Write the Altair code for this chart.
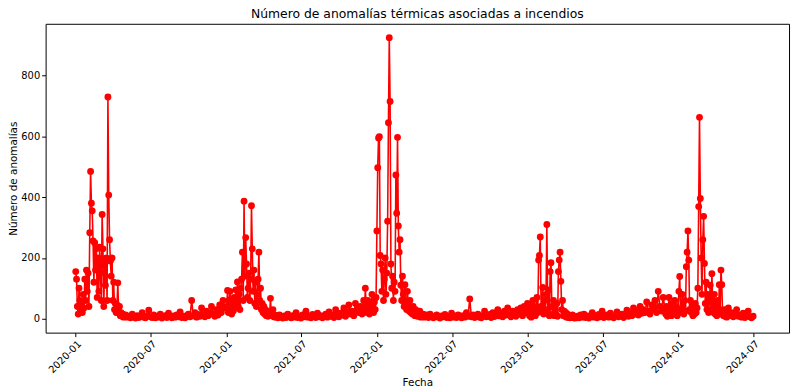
import altair as alt
import pandas as pd

# Season / quiet-period values
s2020 = [155,130,40,15,100,60,25,45,20,80, 35,130,60,160,90,150,40,283,485,380,
         355,256,120,250,160,230,70,200,90,235, 150,60,343,230,40,180,110,200,60,730,
         407,260,190,140,200,60,120,30,50,20, 45,118,25,40,10,20,8,15,5,10, 6]
q2020 = [12,5,8,3,15,6,2,10,4,7, 20,5,3,9,28,6,4,12,3,8, 5,15,2,6,10,4,18,7,3,9,
         5,12,6,22,4,8,3,10,15,6, 60,9,20,5,14,8,35,12,6,25, 10,18,40,15,8,30,12,45,20,60, 35]
s2021 = [40,93,20,60,90,30,15,50,25,70, 35,95,60,121,40,80,30,100,130,219,
         60,387,140,267,180,70,100,150,60,130, 372,230,90,160,50,120,40,80,130,219,
         60,100,30,50,20,40,15,30,10,25, 8,20,12,67,15,10,30,6,12,5]
q2021 = [8,3,12,5,2,9,4,15,6,3, 10,5,20,4,8,2,12,6,25,5, 9,3,14,7,4,18,6,10,3,8,
         15,5,22,8,12,4,30,10,6,18, 12,35,8,20,45,15,25,10,50,30, 20,40,15,60]
s2022 = [30,100,45,20,60,35,15,50,25,80, 40,20,55,30,70,289,497,595,599,208,
         180,90,160,60,130,200,80,150,321,645, 925,715,180,100,140,60,120,90,473,347,
         597,305,219,260,110,60,140,80,40,112, 50,30,90,45,25,60,20,35,15,40,
         20,10,30,15,8,20,10,25,5,12, 8,15,5,10,6,12]
q2022 = [10,4,15,6,3,8,12,5,2,9, 6,14,4,7,3,18,5,9,4,12, 6,3,10,5,20,8,65,6,12,4,
         9,15,5,3,10,25,6,8,14,4, 20,7,12,30,9,15,6,25,12,35, 12,6,25,10,8,30,15,35,10,40, 20,50]
s2023 = [20,45,10,30,5,25,60,15,40,10, 30,70,20,193,208,269,40,25,103,15,
         60,20,80,310,30,95,10,155,184,40, 15,60,10,30,15,50,8,155,193,219,
         123,30,60,10,25,8,20,5,15,4, 10,3,8,5,12,3,6,2,5,3]
q2023 = [8,3,12,5,15,4,9,2,7,20, 5,10,3,14,6,25,4,8,12,5, 18,7,3,10,22,6,9,15,4,12,
         28,8,20,10,35,15,25,12,40,18, 30,20,55,25,15,45,30,60,20,90, 40,25,70,35]
s2024 = [15,40,8,25,70,15,35,10,50,20, 30,60,15,40,10,30,90,139,30,20,
         80,40,15,60,25,171,219,289,193,30, 60,20,40,10,30,15,50,20,35,100,
         369,663,396,200,80,260,337,182,50,120, 30,80,20,60,110,30,148,50,20,80,
         15,40,10,60,20,112,30,160,112,15, 10,30,8,20,5,12]
q2024 = [35,10,20,6,15,30,8,12,5,18,4,9,25,6,3,8]

segment_starts = ["2020-01-01", "2020-05-01", "2021-01-01", "2021-05-01", "2021-12-01",
                  "2022-05-01", "2023-01-01", "2023-05-01", "2023-12-01", "2024-05-01"]
segment_steps = [2, 4, 2, 4, 2, 4, 2, 4, 2, 4]
segment_values = [s2020, q2020, s2021, q2021, s2022, q2022, s2023, q2023, s2024, q2024]

frames = []
for start, step, vals in zip(segment_starts, segment_steps, segment_values):
    dates = pd.date_range(start, periods=len(vals), freq=f"{step}D")
    frames.append(pd.DataFrame({"Fecha": dates.strftime("%Y-%m-%d"), "n": vals}))
df = pd.concat(frames, ignore_index=True)

tick_dates = [alt.DateTime(year=y, month=m, date=1, utc=True)
              for y in range(2020, 2025) for m in (1, 7)]

FONT = "DejaVu Sans"

chart = alt.Chart(df).mark_line(
    color="#ff0000", strokeWidth=1.6,
    point=alt.OverlayMarkDef(filled=True, size=48, color="#ff0000", opacity=1),
).encode(
    x=alt.X("Fecha:T", title="Fecha",
            scale=alt.Scale(type="utc",
                            domain=[alt.DateTime(year=2019, month=10, date=20, utc=True),
                                    alt.DateTime(year=2024, month=9, date=25, utc=True)]),
            axis=alt.Axis(values=tick_dates, format="%Y-%m", labelAngle=-45,
                          labelAlign="right", labelBaseline="top", grid=False,
                          domain=False, tickColor="black", tickSize=4,
                          labelPadding=2, titlePadding=3)),
    y=alt.Y("n:Q", title="Número de anomalías",
            scale=alt.Scale(domain=[-46, 971], nice=False, zero=False),
            axis=alt.Axis(values=[0, 200, 400, 600, 800], grid=False, domain=False,
                          tickColor="black", tickSize=4, labelPadding=2, titlePadding=2)),
).properties(
    width=751, height=312,
    autosize=alt.AutoSizeParams(type="none"),
    padding={"left": 38, "top": 14, "right": 3, "bottom": 56},
    title=alt.Title("Número de anomalías térmicas asociadas a incendios",
                    font=FONT, fontSize=12.5, fontWeight="normal", color="black",
                    offset=3, anchor="middle"),
).configure_view(
    stroke="black", strokeWidth=1
).configure_axis(
    labelFont=FONT, titleFont=FONT, labelFontSize=10, titleFontSize=10.5,
    labelColor="black", titleColor="black", titleFontWeight="normal",
)

chart.save("out.html", embed_options={"renderer": "svg", "actions": False})
